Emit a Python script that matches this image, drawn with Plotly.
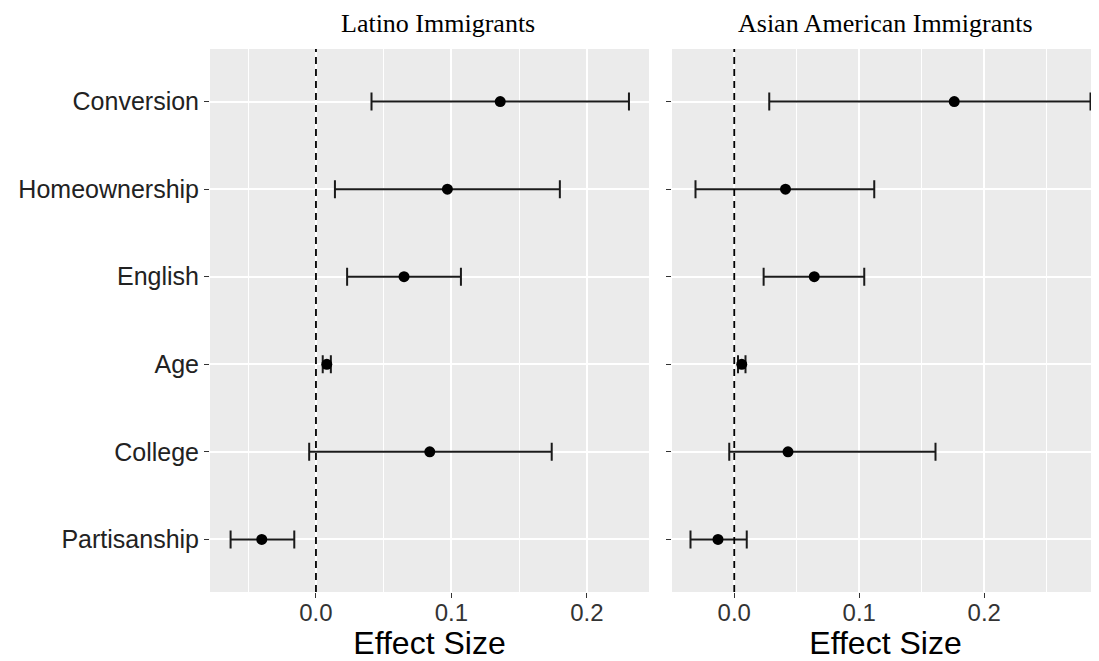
import plotly.graph_objects as go

categories = ["Conversion", "Homeownership", "English", "Age", "College", "Partisanship"]

latino_est = [0.136, 0.097, 0.065, 0.008, 0.084, -0.040]
latino_lo = [0.041, 0.014, 0.023, 0.005, -0.005, -0.063]
latino_hi = [0.231, 0.180, 0.107, 0.011, 0.174, -0.016]

asian_est = [0.176, 0.041, 0.064, 0.006, 0.043, -0.013]
asian_lo = [0.028, -0.031, 0.0235, 0.003, -0.004, -0.035]
asian_hi = [0.285, 0.112, 0.104, 0.009, 0.161, 0.010]

panel_titles = ["Latino Immigrants", "Asian American Immigrants"]
x_title = "Effect Size"
x_tickvals = [0.0, 0.1, 0.2]
x_ticktext = ["0.0", "0.1", "0.2"]
ref_value = 0.0

# page body has an 8px margin; the figure is sized/positioned to compensate
OFF = 8
W, H = 1099 - OFF, 661 - OFF

def px(x):
    return (x - OFF) / W

def py(y):
    return 1 - (y - OFF) / H

fig = go.Figure()

def add_panel(est, lo, hi, xa, ya):
    fig.add_trace(go.Scatter(
        x=est, y=categories, mode="markers",
        marker=dict(color="black", size=11),
        error_x=dict(type="data", symmetric=False,
                     array=[h - e for h, e in zip(hi, est)],
                     arrayminus=[e - l for e, l in zip(est, lo)],
                     color="#1a1a1a", thickness=2, width=9),
        xaxis=xa, yaxis=ya, showlegend=False, hoverinfo="x+y"))

add_panel(latino_est, latino_lo, latino_hi, "x", "y")
add_panel(asian_est, asian_lo, asian_hi, "x2", "y2")

ydom = [py(592), py(49)]
xdom1 = [px(210), px(649)]
xdom2 = [px(672), 1.0]

xcommon = dict(
    tickvals=x_tickvals, ticktext=x_ticktext,
    showgrid=True, gridcolor="white", gridwidth=1.6,
    minor=dict(dtick=0.05, tick0=0, showgrid=True, gridcolor="white", gridwidth=0.8, ticks=""),
    zeroline=False, showline=False,
    ticks="outside", ticklen=5, tickwidth=1.2, tickcolor="#333333",
    ticklabelstandoff=-6,
    tickfont=dict(family="Liberation Sans, Arial", size=24, color="#333333"),
    title=dict(text=x_title, font=dict(family="Liberation Sans, Arial", size=32, color="black"), standoff=5),
    fixedrange=True,
)
ycommon = dict(
    type="category", categoryorder="array", categoryarray=categories[::-1],
    range=[-0.6, 5.6],
    showgrid=True, gridcolor="white", gridwidth=1.6,
    zeroline=False, showline=False,
    ticks="outside", ticklen=5, tickwidth=1.2, tickcolor="#333333",
    tickfont=dict(family="Liberation Sans, Arial", size=25, color="#222222"),
    domain=ydom, fixedrange=True,
)

fig.update_layout(
    width=W, height=H,
    margin=dict(l=0, r=0, t=0, b=0),
    paper_bgcolor="white", plot_bgcolor="#EBEBEB",
    xaxis=dict(domain=xdom1, range=[-0.0782, 0.2458], anchor="y", **xcommon),
    xaxis2=dict(domain=xdom2, range=[-0.0498, 0.2918], anchor="y2", **xcommon),
    yaxis=dict(anchor="x", showticklabels=True, **ycommon),
    yaxis2=dict(anchor="x2", showticklabels=False, **ycommon),
)

for xref, yref in [("x", "y domain"), ("x2", "y2 domain")]:
    fig.add_shape(type="line", x0=ref_value, x1=ref_value, y0=0, y1=1,
                  xref=xref, yref=yref,
                  line=dict(color="black", width=1.8, dash="7px,5px"), layer="above")

centers = [px(438), px(886)]
for t, cx in zip(panel_titles, centers):
    fig.add_annotation(text=t, x=cx, y=py(23), xref="paper", yref="paper",
                       showarrow=False, xanchor="center", yanchor="middle",
                       font=dict(family="Liberation Serif, Times New Roman", size=26, color="black"))

fig.write_html("out.html")
